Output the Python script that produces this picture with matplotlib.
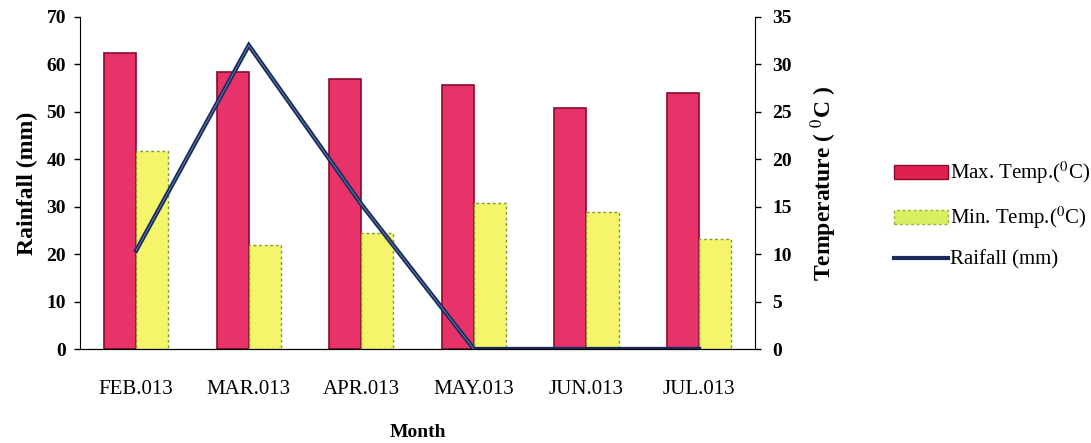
import numpy as np
import matplotlib.pyplot as plt
from matplotlib.lines import Line2D
from matplotlib.patches import Patch

plt.rcParams['font.family'] = ['Liberation Serif', 'DejaVu Serif']
plt.rcParams['mathtext.fontset'] = 'stix'

# data
months = ['FEB.013', 'MAR.013', 'APR.013', 'MAY.013', 'JUN.013', 'JUL.013']
max_temp = [31.2, 29.2, 28.5, 27.8, 25.4, 27.0]   # deg C, right axis
min_temp = [20.9, 11.0, 12.2, 15.4, 14.4, 11.6]   # deg C, right axis
rainfall = [20.8, 64.0, 30.5, 0.0, 0.0, 0.0]      # mm, left axis

x = np.arange(len(months))
w = 0.285

fig = plt.figure(figsize=(10.91, 4.43), dpi=100)
ax = fig.add_axes([0.0733, 0.212, 0.619, 0.75])
ax2 = ax.twinx()

# bars on the temperature axis
ax2.bar(x - w / 2, max_temp, w, color='#E8326A', edgecolor='#8B0A2A', linewidth=1.2)
ax2.bar(x + w / 2, min_temp, w, color='#F4F56A', edgecolor='#7A9A30',
        linewidth=1.0, linestyle=(0, (2, 2)))
ax2.set_ylim(0, 35)
ax2.set_yticks(range(0, 36, 5))

# rainfall line on the left axis (drawn above the bars)
ax.set_zorder(ax2.get_zorder() + 1)
ax.patch.set_visible(False)
ax.plot(x, rainfall, color='#1B2A5C', linewidth=3.2, solid_joinstyle='miter')
ax.plot(x[:4], rainfall[:4], color='#9CC8E8', linewidth=0.6, alpha=0.6)
ax.set_ylim(0, 70)
ax.set_yticks(range(0, 71, 10))
ax.set_xlim(-0.5, 5.5)
ax.set_xticks(x)
ax.set_xticklabels(months)

for a in (ax, ax2):
    a.spines['top'].set_visible(False)
    a.tick_params(labelsize=14, length=4, width=1)
    for t in a.get_yticklabels():
        t.set_fontweight('bold')
ax.spines['right'].set_visible(False)
ax2.spines['left'].set_visible(False)
ax.tick_params(axis='x', length=0, pad=22, labelsize=15)
ax.tick_params(axis='y', pad=6)
ax2.tick_params(axis='y', pad=8)

ax.set_ylabel('Rainfall (mm)', fontsize=17, fontweight='bold', labelpad=6)
ax.set_xlabel('Month', fontsize=14, fontweight='bold', labelpad=18)
ax2.set_ylabel('Temperature ( $^{0}$C )', fontsize=17, fontweight='bold', labelpad=12)

handles = [
    Patch(facecolor='#E0204F', edgecolor='#8B0A2A'),
    Patch(facecolor='#D8F060', edgecolor='#9AB040', linestyle=(0, (2, 2))),
    Line2D([0], [0], color='#1B2A5C', linewidth=3),
]
labels = ['Max. Temp.($^{0}$C)', 'Min. Temp.($^{0}$C)', 'Raifall (mm)']
fig.legend(handles, labels, loc='center left', bbox_to_anchor=(0.812, 0.515),
           frameon=False, fontsize=15, handlelength=2.6, handleheight=0.7,
           handletextpad=0.1, labelspacing=0.9, borderaxespad=0)

fig.savefig('out.png', dpi=100)
